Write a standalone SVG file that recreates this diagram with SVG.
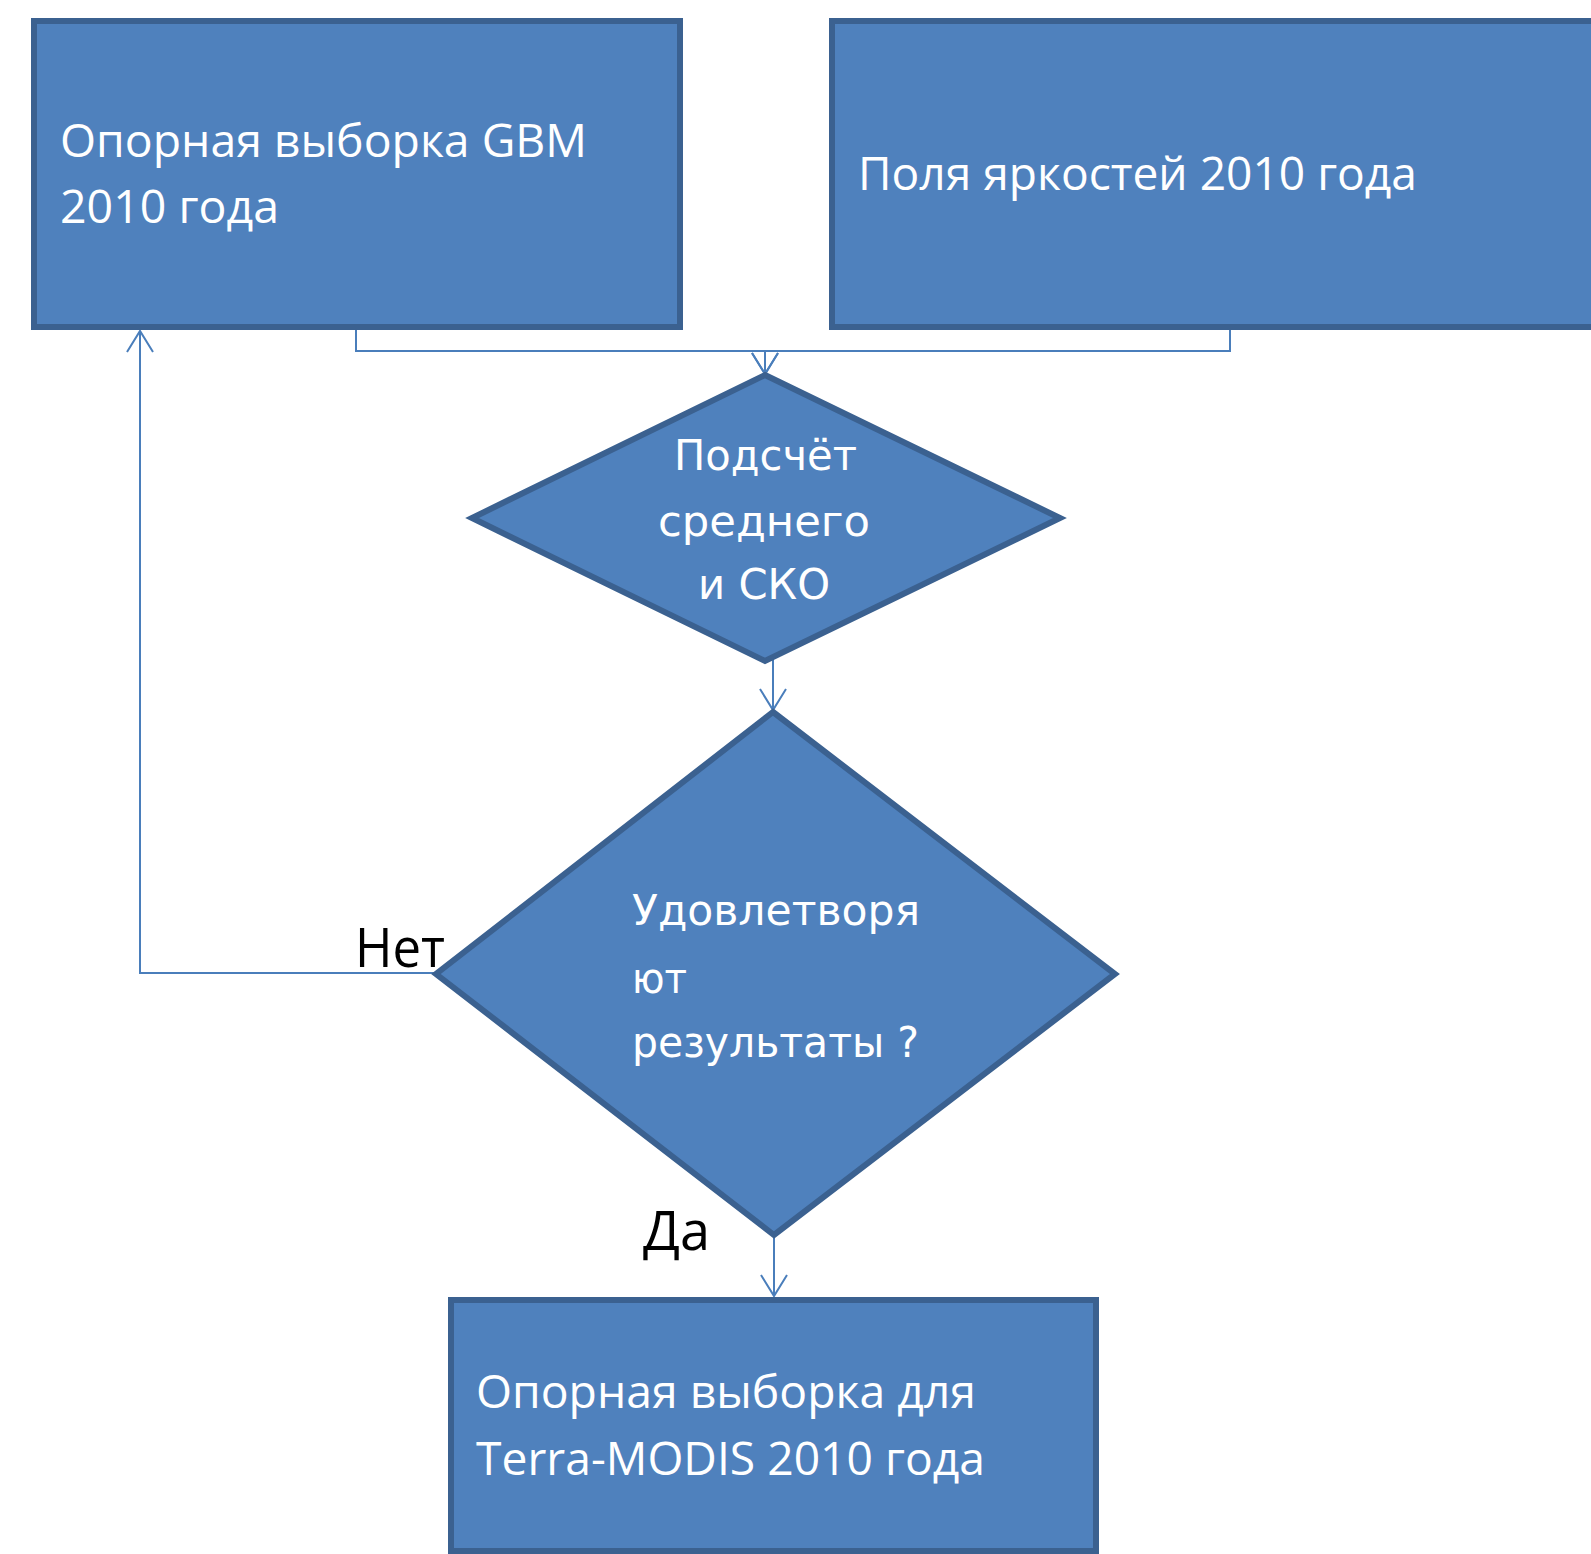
<svg xmlns="http://www.w3.org/2000/svg" width="1591" height="1554" viewBox="0 0 1591 1554">
<style>
.shape{fill:#4f81bd;stroke:#3b6190;stroke-width:6;stroke-linejoin:miter}
.box{font-family:"Open Sans","Noto Sans",sans-serif;font-size:45px;fill:#ffffff}
.dia{font-family:"DejaVu Sans","Noto Sans",sans-serif;font-size:43px;fill:#ffffff}
.lbl{font-family:"Open Sans","Noto Sans",sans-serif;font-size:54px;fill:#000000}
.conn{fill:none;stroke:#4a7ebb;stroke-width:2}
</style>
<defs>
<marker id="arr" markerUnits="userSpaceOnUse" viewBox="-24 -15 26 30" markerWidth="26" markerHeight="30" refX="0" refY="0" orient="auto">
<path d="M-21,-13 L0,0 L-21,13" fill="none" stroke="#4a7ebb" stroke-width="2"/>
</marker>
</defs>
<rect width="1591" height="1554" fill="#ffffff"/>
<g id="connectors">
<path class="conn" d="M356,330 V351 H765 V374" marker-end="url(#arr)"/>
<path class="conn" d="M1230,330 V351 H765 V374" marker-end="url(#arr)"/>
<path class="conn" d="M773,658 V710" marker-end="url(#arr)"/>
<path class="conn" d="M774,1237 V1296" marker-end="url(#arr)"/>
<path class="conn" d="M436,973 H140 V331" marker-end="url(#arr)"/>
</g>
<g id="node-gbm">
<rect class="shape" x="34" y="21" width="646" height="306"/>
<text class="box" x="60" y="157" textLength="527" lengthAdjust="spacingAndGlyphs">Опорная выборка GBM</text>
<text class="box" x="60" y="223" textLength="219" lengthAdjust="spacingAndGlyphs">2010 года</text>
</g>
<g id="node-fields">
<rect class="shape" x="832" y="21" width="780" height="306"/>
<text class="box" x="858" y="190" textLength="559" lengthAdjust="spacingAndGlyphs">Поля яркостей 2010 года</text>
</g>
<g id="node-calc">
<polygon class="shape" points="765,375 1060,518 765,661 472,518"/>
<text class="dia" x="765.5" y="470" text-anchor="middle" textLength="183" lengthAdjust="spacingAndGlyphs">Подсчёт</text>
<text class="dia" x="764" y="536" text-anchor="middle" textLength="212" lengthAdjust="spacingAndGlyphs">среднего</text>
<text class="dia" x="764" y="599" text-anchor="middle" textLength="132" lengthAdjust="spacingAndGlyphs">и СКО</text>
</g>
<g id="node-check">
<polygon class="shape" points="773,712 1115,974 774,1235 436,974"/>
<text class="dia" x="632" y="925" textLength="288" lengthAdjust="spacingAndGlyphs">Удовлетворя</text>
<text class="dia" x="632" y="993" textLength="55" lengthAdjust="spacingAndGlyphs">ют</text>
<text class="dia" x="632" y="1057" textLength="287" lengthAdjust="spacingAndGlyphs">результаты ?</text>
</g>
<g id="label-no">
<text class="lbl" x="355" y="967" textLength="90" lengthAdjust="spacingAndGlyphs">Нет</text>
</g>
<g id="label-yes">
<text class="lbl" x="643" y="1250" textLength="67" lengthAdjust="spacingAndGlyphs">Да</text>
</g>
<g id="node-result">
<rect class="shape" x="451" y="1300" width="645" height="251"/>
<text class="box" x="476" y="1408" textLength="500" lengthAdjust="spacingAndGlyphs">Опорная выборка для</text>
<text class="box" x="476" y="1475" textLength="509" lengthAdjust="spacingAndGlyphs">Terra-MODIS 2010 года</text>
</g>
</svg>
